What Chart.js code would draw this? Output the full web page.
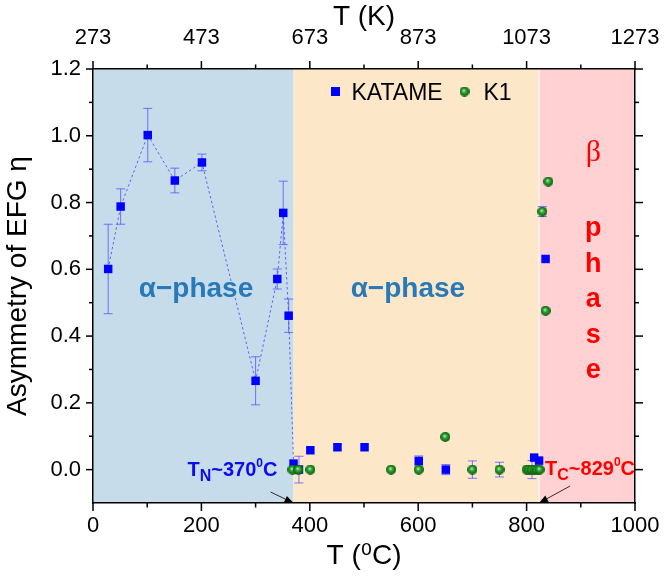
<!DOCTYPE html>
<html><head><meta charset="utf-8">
<script src="https://cdn.jsdelivr.net/npm/chart.js@4.4.1/dist/chart.umd.min.js"></script>
<style>html,body{margin:0;padding:0;background:#fff}canvas{display:block}</style>
</head><body>
<canvas id="c" width="664" height="580"></canvas>
<script>
// ---- data ----
const katameT   = [28, 51, 101, 151, 201, 300, 340, 351, 361, 370, 380, 401, 451, 501, 601, 651, 810, 814, 823, 835];
const katameEta = [0.601, 0.788, 1.002, 0.866, 0.920, 0.266, 0.571, 0.769, 0.461, 0.018, 0.0, 0.058, 0.067, 0.067, 0.026, 0.0, 0.0, 0.036, 0.027, 0.631];
const katameErr = [0.134, 0.053, 0.080, 0.037, 0.025, 0.072, 0.030, 0.095, 0.050, 0.0, 0.040, 0.0, 0.008, 0.0, 0.015, 0.015, 0.027, 0.0, 0.0, 0.0];
const k1T   = [368, 379, 401, 550, 601, 650, 700, 750, 800, 805, 810, 815, 820, 824, 829, 835, 840];
const k1Eta = [0, 0, 0, 0, 0, 0.098, 0, 0, 0, 0, 0, 0, 0, 0, 0.773, 0.476, 0.863];
const k1Err = [0, 0, 0, 0, 0, 0, 0.026, 0.022, 0, 0, 0, 0, 0, 0, 0.015, 0, 0];
const lineEnd = 9;                 // dotted line joins KATAME points 0..9
const celsiusTicks = [0, 200, 400, 600, 800, 1000];
const celsiusMinor = [100, 300, 500, 700, 900];
const kelvinTicks  = [273, 473, 673, 873, 1073, 1273];
const kelvinMinor  = [373, 573, 773, 973, 1173];
const etaTicks = [0, 0.2, 0.4, 0.6, 0.8, 1.0, 1.2];
const etaMinor = [0.1, 0.3, 0.5, 0.7, 0.9, 1.1];
const TN = 370, TCbound = 823;     // phase boundaries (°C)

const FONT = "'Liberation Sans', Arial, 'DejaVu Sans', sans-serif";

function makeBall(d){
  const c = document.createElement('canvas'); c.width = c.height = d;
  const g = c.getContext('2d'); const r = d/2;
  const grad = g.createRadialGradient(r*0.85, r*0.8, 0.3, r, r, r);
  grad.addColorStop(0, '#d8f5d8'); grad.addColorStop(0.28, '#44ad44');
  grad.addColorStop(0.7, '#15801a'); grad.addColorStop(1, '#0a560c');
  g.fillStyle = grad; g.beginPath(); g.arc(r, r, r, 0, Math.PI*2); g.fill();
  return c;
}
const ball = makeBall(10);

const regions = {
  id: 'regions',
  beforeDraw(chart){
    const {ctx, chartArea: a, scales: {x}} = chart;
    const xs = [x.getPixelForValue(0), x.getPixelForValue(TN), x.getPixelForValue(TCbound), x.getPixelForValue(1000)];
    const cols = ['#c7dcea', '#fde7c9', '#ffd1d3'];
    ctx.save();
    for (let i = 0; i < 3; i++){ ctx.fillStyle = cols[i]; ctx.fillRect(xs[i], a.top, xs[i+1]-xs[i], a.bottom-a.top); }
    ctx.strokeStyle = '#ffffff'; ctx.lineWidth = 1;
    ctx.beginPath(); ctx.moveTo(xs[2], a.top); ctx.lineTo(xs[2], a.bottom); ctx.stroke();
    ctx.restore();
  }
};

const errorBars = {
  id: 'errorBars',
  beforeDatasetsDraw(chart){
    const {ctx, scales: {x, y}} = chart;
    ctx.save(); ctx.strokeStyle = 'rgba(85,85,255,0.8)'; ctx.lineWidth = 1;
    for (const [T, E, R] of [[katameT, katameEta, katameErr], [k1T, k1Eta, k1Err]]){
      for (let i = 0; i < T.length; i++){
        if (!R[i]) continue;
        const px = x.getPixelForValue(T[i]);
        const y1 = y.getPixelForValue(E[i] + R[i]), y2 = y.getPixelForValue(E[i] - R[i]);
        ctx.beginPath();
        ctx.moveTo(px, y1); ctx.lineTo(px, y2);
        ctx.moveTo(px-4.5, y1); ctx.lineTo(px+4.5, y1);
        ctx.moveTo(px-4.5, y2); ctx.lineTo(px+4.5, y2);
        ctx.stroke();
      }
    }
    ctx.restore();
  }
};

function rich(ctx, x0, base, parts, color){
  let x = x0;
  ctx.fillStyle = color; ctx.textAlign = 'left'; ctx.textBaseline = 'alphabetic';
  for (const p of parts){
    ctx.font = 'bold ' + p.s + 'px ' + FONT;
    ctx.fillText(p.t, x, base + p.dy);
    x += ctx.measureText(p.t).width;
  }
}
function arrow(ctx, x1, y1, x2, y2){
  ctx.save(); ctx.strokeStyle = '#000'; ctx.fillStyle = '#000'; ctx.lineWidth = 0.8;
  const ang = Math.atan2(y2-y1, x2-x1), L = 9, W = 3.5;
  const bx = x2 - L*Math.cos(ang), by = y2 - L*Math.sin(ang);
  ctx.beginPath(); ctx.moveTo(x1, y1); ctx.lineTo(bx, by); ctx.stroke();
  ctx.beginPath(); ctx.moveTo(x2, y2);
  ctx.lineTo(bx + W*Math.sin(ang), by - W*Math.cos(ang));
  ctx.lineTo(bx - W*Math.sin(ang), by + W*Math.cos(ang));
  ctx.closePath(); ctx.fill(); ctx.restore();
}

const decor = {
  id: 'decor',
  afterDraw(chart){
    const {ctx, chartArea: a, scales: {x, y, xk, yr}} = chart;
    ctx.save();
    // tick marks (outward)
    ctx.strokeStyle = '#000'; ctx.lineWidth = 1.5;
    const tk = (scale, vals, len, side) => {
      for (const v of vals){
        const p = scale.getPixelForValue(v);
        ctx.beginPath();
        if (side === 'b'){ ctx.moveTo(p, a.bottom); ctx.lineTo(p, a.bottom + len); }
        if (side === 't'){ ctx.moveTo(p, a.top); ctx.lineTo(p, a.top - len); }
        if (side === 'l'){ ctx.moveTo(a.left, p); ctx.lineTo(a.left - len, p); }
        if (side === 'r'){ ctx.moveTo(a.right, p); ctx.lineTo(a.right + len, p); }
        ctx.stroke();
      }
    };
    tk(x, celsiusTicks, 8, 'b'); tk(x, celsiusMinor, 4.5, 'b');
    tk(xk, kelvinTicks, 8, 't'); tk(xk, kelvinMinor, 4.5, 't');
    tk(y, etaTicks, 7, 'l'); tk(y, etaMinor, 4, 'l');
    tk(yr, etaTicks, 8, 'r'); tk(yr, etaMinor, 4, 'r');

    // phase labels
    ctx.fillStyle = '#2779b7'; ctx.font = 'bold 28px ' + FONT;
    ctx.textAlign = 'center'; ctx.textBaseline = 'alphabetic';
    ctx.fillText('α−phase', x.getPixelForValue(190), y.getPixelForValue(0.517));
    ctx.fillText('α−phase', x.getPixelForValue(581), y.getPixelForValue(0.517));
    ctx.fillStyle = '#ff0000';
    const bx = x.getPixelForValue(923);
    ctx.font = "30px 'Liberation Serif', 'DejaVu Serif', serif";
    ctx.fillText('β', bx, y.getPixelForValue(0.923));
    ctx.font = 'bold 27px ' + FONT;
    const letters = ['p', 'h', 'a', 's', 'e'];
    letters.forEach((c, i) => ctx.fillText(c, bx, y.getPixelForValue(0.699 - i*0.1065)));

    // transition labels
    rich(ctx, x.getPixelForValue(TN) - 106, y.getPixelForValue(-0.02),
      [{t:'T', s:20, dy:0}, {t:'N', s:16, dy:5}, {t:'~370', s:20, dy:0}, {t:'0', s:12, dy:-9.5}, {t:'C', s:20, dy:0}], '#0a0af5');
    rich(ctx, x.getPixelForValue(TCbound) + 6, y.getPixelForValue(-0.017),
      [{t:'T', s:20, dy:0}, {t:'C', s:16, dy:5}, {t:'~829', s:20, dy:0}, {t:'0', s:12, dy:-9.5}, {t:'C', s:20, dy:0}], '#ff0000');
    const tnx = x.getPixelForValue(TN), tcx = x.getPixelForValue(TCbound);
    arrow(ctx, tnx - 23, a.bottom - 11, tnx, a.bottom);
    arrow(ctx, tcx + 31, a.bottom - 17, tcx, a.bottom);

    // legend
    const lx = a.left, ly = a.top;
    const ds = chart.data.datasets;
    ctx.fillStyle = '#0000ff'; ctx.fillRect(lx + 238, ly + 18, 9, 9);
    ctx.drawImage(ball, lx + 366.5, ly + 17.5, 10, 10);
    ctx.fillStyle = '#000'; ctx.font = '23px ' + FONT; ctx.textAlign = 'left';
    ctx.fillText(ds[0].label, lx + 258.5, ly + 30.5);
    ctx.fillText(ds[1].label, lx + 390.5, ly + 30.5);
    ctx.restore();
  }
};

const hiddenGrid = (len) => ({display: true, drawOnChartArea: false, drawTicks: true, tickLength: len, color: 'rgba(0,0,0,0)', lineWidth: 1});
const border = {display: true, color: '#000', width: 1.5};

new Chart(document.getElementById('c'), {
  type: 'scatter',
  data: {
    datasets: [
      {
        label: 'KATAME',
        data: katameT.map((t, i) => ({x: t, y: katameEta[i]})),
        pointStyle: 'rect', pointRadius: 6, pointHoverRadius: 6,
        pointBackgroundColor: '#0000ff', backgroundColor: '#0000ff', pointBorderWidth: 0,
        showLine: true, borderWidth: 0.9, borderColor: 'rgba(60,60,255,0.85)', borderDash: [2.5, 2.5],
        segment: { borderColor: c => c.p1DataIndex <= lineEnd ? 'rgba(60,60,255,0.85)' : 'rgba(0,0,0,0)' },
        order: 2
      },
      {
        label: 'K1',
        data: k1T.map((t, i) => ({x: t, y: k1Eta[i]})),
        pointStyle: ball, pointRadius: 5, pointBorderWidth: 0,
        backgroundColor: '#1a8a1a', showLine: false,
        order: 1
      }
    ]
  },
  options: {
    responsive: false, animation: false, devicePixelRatio: 1,
    layout: {padding: 0},
    plugins: {legend: {display: false}, tooltip: {enabled: false}},
    scales: {
      x: {
        type: 'linear', position: 'bottom', min: 0, max: 1000,
        grid: hiddenGrid(10), border,
        afterBuildTicks: s => { s.ticks = celsiusTicks.map(v => ({value: v})); },
        afterFit: s => { s.height = 77; },
        ticks: {font: {family: FONT, size: 22}, color: '#000', padding: 0, maxRotation: 0, autoSkip: false, callback: v => String(v)},
        title: {display: true, text: 'T (⁰C)', font: {family: FONT, size: 28}, color: '#000', padding: {top: 0, bottom: 7}}
      },
      xk: {
        type: 'linear', position: 'top', min: 273, max: 1273, display: true,
        grid: hiddenGrid(18), border,
        afterBuildTicks: s => { s.ticks = kelvinTicks.map(v => ({value: v})); },
        afterFit: s => { s.height = 69; },
        ticks: {font: {family: FONT, size: 22}, color: '#000', padding: 0, maxRotation: 0, autoSkip: false, callback: v => String(v)},
        title: {display: true, text: 'T (K)', font: {family: FONT, size: 28}, color: '#000', padding: {top: 0, bottom: 0}}
      },
      y: {
        type: 'linear', position: 'left', min: -0.1, max: 1.2,
        grid: {display: false, drawTicks: false}, border,
        afterBuildTicks: s => { s.ticks = etaTicks.map(v => ({value: v})); },
        afterFit: s => { s.width = 93; },
        ticks: {font: {family: FONT, size: 22}, color: '#000', padding: 12, autoSkip: false, callback: v => Number(v).toFixed(1)},
        title: {display: true, text: 'Asymmetry of EFG η', font: {family: FONT, size: 28}, color: '#000', padding: {top: 1, bottom: 0}}
      },
      yr: {
        type: 'linear', position: 'right', min: -0.1, max: 1.2, display: true,
        grid: {display: false, drawTicks: false}, border,
        afterFit: s => { s.width = 29; },
        ticks: {display: false}
      }
    }
  },
  plugins: [regions, errorBars, decor]
});
</script>
</body></html>
